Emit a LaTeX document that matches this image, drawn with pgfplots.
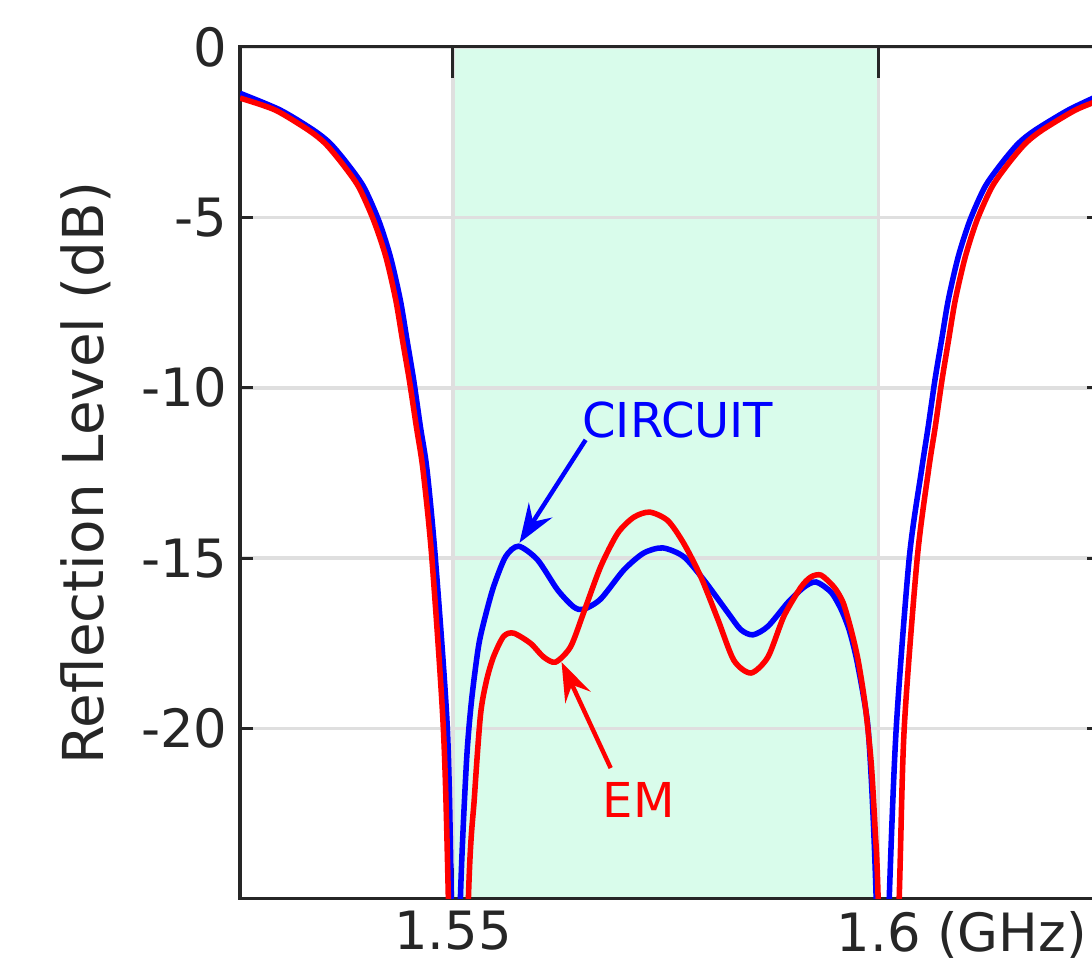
\documentclass[border=0pt]{standalone}
\usepackage{fontspec}
\setmainfont{DejaVu Sans}
\usepackage{pgfplots}
\pgfplotsset{compat=1.18}
\usetikzlibrary{arrows.meta}
\definecolor{mint}{RGB}{217,252,235}
\definecolor{axgray}{RGB}{38,38,38}
\definecolor{gridgray}{RGB}{223,223,223}
\begin{document}
\begin{tikzpicture}
\begin{axis}[set layers,
  width=309.6pt, height=306.7pt, scale only axis,
  xmin=1.525, xmax=1.626, ymin=-25, ymax=0,
  xtick={1.55,1.6}, xticklabels={1.55,{1.6\rlap{\ (GHz)}}},
  ytick={-20,-15,-10,-5,0}, yticklabels={-20,-15,-10,-5,0},
  tick align=inside, tick pos=both,
  grid=major, grid style={gridgray, line width=1.3pt},
  axis line style={axgray, line width=1.1pt},
  major tick style={axgray, line width=1.1pt},
  xtick style={/pgfplots/major tick length=11.2pt},
  ytick style={/pgfplots/major tick length=4.7pt},
  ticklabel style={font=\fontsize{19}{21}\selectfont, text=axgray},
  xticklabel style={inner sep=0pt, yshift=-4.2pt},
  yticklabel style={inner sep=0pt, xshift=-4.3pt},
  ylabel={Reflection Level (dB)},
  ylabel style={font=\fontsize{20.3}{23}\selectfont, text=axgray,
    at={(axis description cs:-0.179,0.5)}, anchor=center},
  every axis plot/.append style={line width=2pt}]
% passband
\addplot[draw=none, fill=mint, on layer=axis background] coordinates
  {(1.55,-25) (1.55,0) (1.6,0) (1.6,-25)} -- cycle;
% circuit model
\addplot[blue, smooth, tension=0.45] coordinates {
(1.52500,-1.36) (1.52971,-1.85) (1.53362,-2.44) (1.53559,-2.83) (1.53755,-3.41)
(1.53951,-4.10) (1.54127,-5.08) (1.54265,-6.15) (1.54382,-7.42) (1.54461,-8.60)
(1.54539,-9.77) (1.54618,-11.14) (1.54696,-12.41) (1.54794,-15.0) (1.54935,-20.0)
(1.54982,-25.0) (1.55029,-32) (1.55088,-25) (1.55159,-21) (1.55218,-19.2)
(1.55300,-17.6) (1.55371,-16.8) (1.55476,-15.85) (1.55618,-14.96) (1.55771,-14.65)
(1.55994,-15.05) (1.56229,-15.93) (1.56418,-16.43) (1.56535,-16.5) (1.56735,-16.2)
(1.57006,-15.35) (1.57241,-14.85) (1.57465,-14.7) (1.57712,-14.96) (1.57947,-15.64)
(1.58229,-16.6) (1.58382,-17.1) (1.58524,-17.25) (1.58700,-17.0) (1.58935,-16.3)
(1.59124,-15.85) (1.59265,-15.7) (1.59441,-16.0) (1.59559,-16.5) (1.59653,-17.1)
(1.59735,-17.9) (1.59818,-19.0) (1.59876,-20.0) (1.59924,-22) (1.59971,-25)
(1.60041,-32) (1.60124,-25) (1.60206,-20) (1.60359,-15) (1.60504,-12.41)
(1.60582,-11.14) (1.60661,-9.77) (1.60739,-8.60) (1.60818,-7.42) (1.60935,-6.15)
(1.61073,-5.08) (1.61249,-4.10) (1.61445,-3.41) (1.61641,-2.83) (1.61838,-2.44)
(1.62229,-1.85) (1.62600,-1.41)};
% EM simulation
\addplot[red, smooth, tension=0.45] coordinates {
(1.52500,-1.50) (1.52912,-1.85) (1.53304,-2.44) (1.53500,-2.83) (1.53696,-3.41)
(1.53892,-4.10) (1.54068,-5.08) (1.54212,-6.15) (1.54329,-7.42) (1.54408,-8.60)
(1.54488,-9.77) (1.54571,-11.14) (1.54649,-12.41) (1.54753,-15.0) (1.54888,-20.0)
(1.54947,-25.0) (1.55053,-38) (1.55182,-25) (1.55253,-22) (1.55324,-19.6)
(1.55394,-18.6) (1.55476,-17.9) (1.55594,-17.3) (1.55712,-17.2) (1.55912,-17.5)
(1.56065,-17.9) (1.56206,-18.05) (1.56382,-17.6) (1.56535,-16.6) (1.56735,-15.25)
(1.56935,-14.27) (1.57124,-13.8) (1.57312,-13.65) (1.57524,-13.9) (1.57712,-14.57)
(1.57912,-15.55) (1.58112,-16.8) (1.58300,-18.0) (1.58500,-18.37) (1.58700,-17.9)
(1.58888,-16.7) (1.59088,-15.85) (1.59206,-15.55) (1.59324,-15.5) (1.59476,-15.85)
(1.59582,-16.3) (1.59676,-17.1) (1.59759,-18.0) (1.59841,-19.3) (1.59912,-21)
(1.59959,-23) (1.59994,-25) (1.60112,-36) (1.60241,-25) (1.60300,-20)
(1.60453,-15) (1.60586,-12.41) (1.60665,-11.14) (1.60744,-9.77) (1.60821,-8.60)
(1.60900,-7.42) (1.61018,-6.15) (1.61155,-5.08) (1.61332,-4.10) (1.61527,-3.41)
(1.61724,-2.83) (1.61920,-2.44) (1.62312,-1.85) (1.62600,-1.56)};
% annotations
\draw[blue, line width=1.6pt, -{Stealth[length=14pt,width=10pt,inset=5pt]}]
  (axis cs:1.56559,-11.53) -- (axis cs:1.55782,-14.55);
\node[blue, font=\fontsize{17.3}{20}\selectfont, anchor=base, inner sep=0pt]
  at (axis cs:1.57641,-11.47) {CIRCUIT};
\draw[red, line width=1.6pt, -{Stealth[length=14pt,width=10pt,inset=5pt]}]
  (axis cs:1.56853,-21.16) -- (axis cs:1.56276,-18.05);
\node[red, font=\fontsize{17.3}{20}\selectfont, anchor=base, inner sep=0pt]
  at (axis cs:1.57182,-22.62) {EM};
\coordinate (bb1) at (rel axis cs:0,0);
\coordinate (bb2) at (rel axis cs:0,1);
\end{axis}
\pgfresetboundingbox
\path[use as bounding box] ([xshift=-86.4pt,yshift=-22pt]bb1)
  rectangle ([xshift=306.7pt,yshift=16.9pt]bb2);
\end{tikzpicture}
\end{document}
